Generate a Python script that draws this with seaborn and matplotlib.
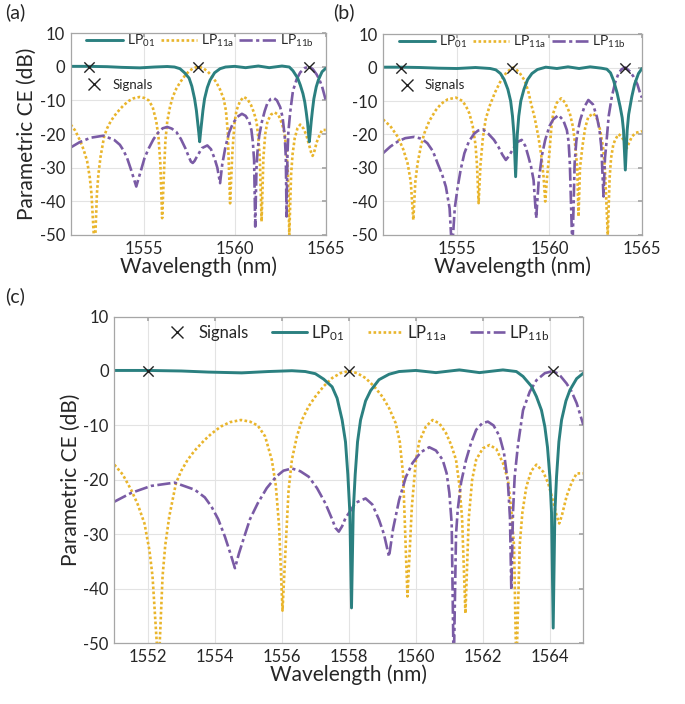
import numpy as np
import pandas as pd
import matplotlib
matplotlib.use("Agg")
import matplotlib.pyplot as plt
from matplotlib.lines import Line2D
import seaborn as sns

# ---------------- data ----------------
signal_nm = [1552.0, 1558.0, 1564.1]
signal_db = [0.0, 0.0, 0.0]

# panels (c) and (a): (wavelength nm, CE dB in (c), CE dB in (a))
lp01_ca = [
    (1551.0, 0.1, 0.1), (1552.0, 0.1, 0.1), (1553.0, 0.0, 0.0), (1553.8, -0.2, -0.2),
    (1554.8, -0.35, -0.35), (1555.6, -0.1, -0.1), (1556.3, 0.05, 0.05), (1556.7, -0.1, -0.1),
    (1557.0, -0.5, -0.6), (1557.25, -1.5, -1.8), (1557.5, -2.9, -3.4), (1557.65, -5.0, -5.8),
    (1557.8, -9.0, -9.5), (1557.9, -13.0, -13.0), (1557.97, -19.0, -16.5), (1558.03, -26.0, -19.5),
    (1558.08, -43.5, -22.3), (1558.13, -26.0, -19.5), (1558.19, -19.0, -16.5), (1558.26, -13.0, -13.0),
    (1558.35, -9.0, -9.5), (1558.5, -5.5, -6.2), (1558.65, -3.6, -4.0), (1558.9, -1.6, -1.8),
    (1559.2, -0.6, -0.6), (1559.5, -0.1, -0.1), (1560.0, 0.1, 0.1), (1560.6, -0.3, -0.3),
    (1561.3, 0.2, 0.2), (1561.9, -0.3, -0.3), (1562.6, 0.2, 0.2), (1563.0, -0.1, -0.1),
    (1563.2, -1.0, -1.2), (1563.45, -2.8, -3.3), (1563.6, -4.7, -5.4), (1563.75, -7.2, -8.0),
    (1563.85, -10.2, -10.5), (1563.93, -14.0, -13.5), (1564.0, -19.4, -16.5), (1564.05, -26.0, -19.5),
    (1564.1, -47.2, -22.3), (1564.15, -26.0, -19.5), (1564.2, -19.4, -16.5), (1564.27, -13.0, -13.0),
    (1564.35, -9.0, -9.5), (1564.48, -5.5, -6.0), (1564.6, -3.5, -3.9), (1564.8, -1.4, -1.5),
    (1565.0, -0.4, -0.5),
]

lp11a_ca = [
    (1551.0, -17.2, -17.2), (1551.25, -19.0, -19.0), (1551.5, -21.8, -21.8), (1551.7, -24.5, -24.5),
    (1551.9, -28.0, -28.0), (1552.05, -33.0, -33.0), (1552.14, -37.7, -37.7), (1552.32, -55.0, -55.0),
    (1552.44, -37.7, -37.7), (1552.52, -32.0, -32.0), (1552.64, -26.7, -26.7), (1552.84, -20.6, -20.6),
    (1553.0, -18.3, -18.3), (1553.19, -16.3, -16.3), (1553.4, -14.6, -14.6), (1553.69, -12.7, -12.7),
    (1553.9, -11.5, -11.5), (1554.18, -10.2, -10.2), (1554.45, -9.4, -9.4), (1554.78, -9.0, -9.0),
    (1555.05, -9.3, -9.3), (1555.28, -10.0, -10.0), (1555.5, -12.0, -12.0), (1555.7, -16.3, -16.3),
    (1555.82, -21.0, -21.0), (1555.92, -28.6, -28.6), (1556.02, -44.0, -45.0), (1556.12, -31.6, -31.6),
    (1556.2, -22.0, -22.0), (1556.3, -16.3, -16.3), (1556.45, -12.0, -12.0), (1556.6, -9.0, -9.0),
    (1556.8, -6.5, -6.5), (1557.0, -4.7, -4.7), (1557.25, -2.8, -2.8), (1557.5, -1.3, -1.3),
    (1557.75, -0.4, -0.4), (1558.0, 0.0, 0.0), (1558.25, -0.4, -0.4), (1558.5, -1.3, -1.3),
    (1558.75, -2.8, -2.8), (1559.0, -4.7, -4.7), (1559.2, -6.8, -6.8), (1559.4, -9.6, -9.6),
    (1559.52, -13.0, -13.0), (1559.62, -19.0, -19.0), (1559.75, -41.4, -40.6), (1559.88, -25.0, -25.0),
    (1560.0, -16.5, -16.5), (1560.1, -13.0, -13.0), (1560.3, -10.2, -10.2), (1560.5, -9.0, -9.0),
    (1560.7, -9.6, -9.6), (1560.9, -11.4, -11.4), (1561.05, -13.5, -13.5), (1561.2, -16.3, -16.3),
    (1561.3, -21.0, -21.0), (1561.38, -27.0, -27.0), (1561.48, -44.5, -46.0), (1561.58, -27.0, -27.0),
    (1561.68, -20.0, -20.0), (1561.8, -16.3, -16.3), (1562.0, -14.2, -14.2), (1562.2, -13.6, -13.6),
    (1562.4, -14.3, -14.3), (1562.6, -16.9, -16.9), (1562.75, -20.0, -20.0), (1562.85, -25.5, -25.5),
    (1562.93, -32.0, -32.0), (1563.0, -55.0, -50.0), (1563.1, -32.0, -32.0), (1563.18, -26.0, -26.0),
    (1563.3, -21.2, -21.2), (1563.45, -18.3, -18.3), (1563.6, -17.2, -17.2), (1563.8, -18.5, -18.5),
    (1563.95, -20.6, -20.6), (1564.1, -24.0, -23.5), (1564.2, -26.5, -25.5), (1564.28, -28.0, -26.5),
    (1564.36, -26.5, -25.5), (1564.5, -23.0, -22.5), (1564.65, -20.5, -20.5), (1564.8, -18.8, -18.8),
    (1565.0, -18.8, -18.8),
]

lp11b_ca = [
    (1551.0, -24.0, -24.0), (1551.5, -22.4, -22.4), (1552.1, -21.1, -21.1), (1552.8, -20.5, -20.5),
    (1553.4, -21.8, -21.8), (1553.7, -23.2, -23.2), (1553.9, -24.9, -24.9), (1554.1, -27.2, -27.2),
    (1554.3, -30.4, -30.4), (1554.48, -33.8, -33.5), (1554.6, -36.2, -35.6), (1554.72, -33.5, -33.3),
    (1554.88, -30.4, -30.4), (1555.05, -27.2, -27.2), (1555.28, -24.3, -24.3), (1555.55, -21.5, -21.5),
    (1555.83, -19.4, -19.4), (1556.05, -18.3, -18.3), (1556.3, -17.9, -17.9), (1556.55, -18.4, -18.4),
    (1556.8, -19.4, -19.4), (1557.05, -21.5, -21.5), (1557.3, -24.3, -24.3), (1557.5, -27.2, -27.0),
    (1557.6, -28.8, -28.2), (1557.7, -29.5, -28.6), (1557.8, -28.5, -28.0), (1557.9, -27.0, -27.0),
    (1558.0, -26.1, -26.1), (1558.2, -24.2, -24.2), (1558.5, -23.4, -23.4), (1558.7, -24.5, -24.5),
    (1558.9, -27.3, -27.3), (1559.05, -30.0, -30.0), (1559.2, -34.1, -34.6), (1559.32, -29.0, -29.0),
    (1559.5, -23.7, -23.7), (1559.7, -19.5, -19.5), (1559.9, -16.9, -16.9), (1560.15, -14.9, -14.9),
    (1560.4, -14.0, -14.0), (1560.6, -14.6, -14.6), (1560.8, -16.3, -16.3), (1560.92, -18.8, -18.8),
    (1561.0, -22.4, -22.4), (1561.07, -28.0, -28.0), (1561.13, -55.0, -47.5), (1561.2, -30.0, -30.0),
    (1561.25, -25.5, -25.5), (1561.35, -20.5, -20.5), (1561.5, -16.3, -16.3), (1561.65, -13.2, -13.2),
    (1561.8, -10.8, -10.8), (1561.98, -9.6, -9.6), (1562.15, -9.3, -9.3), (1562.32, -10.0, -10.0),
    (1562.5, -12.0, -12.0), (1562.63, -15.0, -15.0), (1562.75, -20.6, -20.6), (1562.81, -27.0, -27.0),
    (1562.85, -40.2, -44.5), (1562.9, -26.0, -26.0), (1562.95, -19.4, -19.4), (1563.05, -13.5, -13.5),
    (1563.2, -7.2, -7.2), (1563.4, -3.8, -3.8), (1563.6, -1.7, -1.7), (1563.85, -0.4, -0.4),
    (1564.1, 0.0, 0.0), (1564.3, -0.8, -0.8), (1564.5, -2.3, -2.3), (1564.65, -3.8, -3.8),
    (1564.8, -5.9, -5.9), (1565.0, -9.9, -9.9),
]

# panel (b): (wavelength nm, CE dB)
b_lp01 = [
    (1551.0, 0.1), (1552.0, 0.1), (1553.0, 0.0), (1554.0, -0.2), (1555.0, -0.3), (1556.0, 0.0),
    (1556.8, -0.3), (1557.1, -0.7), (1557.35, -1.8), (1557.55, -3.6), (1557.75, -6.5), (1557.9, -10.0),
    (1558.0, -14.5), (1558.08, -20.0), (1558.17, -32.6), (1558.26, -20.0), (1558.34, -14.5),
    (1558.45, -10.0), (1558.62, -6.5), (1558.82, -3.6), (1559.05, -1.8), (1559.35, -0.6), (1559.8, 0.1),
    (1560.4, -0.3), (1561.0, 0.2), (1561.6, -0.3), (1562.2, 0.2), (1562.8, -0.2), (1563.1, -0.5),
    (1563.3, -1.6), (1563.46, -3.8), (1563.65, -7.5), (1563.82, -11.7), (1563.93, -15.0), (1564.0, -18.7),
    (1564.1, -30.6), (1564.2, -18.7), (1564.28, -14.0), (1564.45, -8.7), (1564.6, -5.0), (1564.81, -1.8),
    (1565.0, -0.3),
]
b_lp11a = [
    (1551.0, -15.5), (1551.4, -17.5), (1551.8, -20.7), (1552.1, -24.5), (1552.33, -28.6), (1552.5, -34.0),
    (1552.64, -45.5), (1552.75, -34.0), (1552.87, -28.6), (1553.05, -23.5), (1553.23, -19.7),
    (1553.5, -16.0), (1553.86, -12.7), (1554.15, -10.8), (1554.5, -9.5), (1554.95, -9.0), (1555.3, -10.0),
    (1555.5, -11.7), (1555.67, -13.7), (1555.85, -17.5), (1556.0, -23.0), (1556.08, -29.0),
    (1556.17, -40.5), (1556.27, -29.0), (1556.4, -21.0), (1556.55, -15.5), (1556.75, -11.7),
    (1557.05, -7.5), (1557.38, -3.8), (1557.7, -1.3), (1558.05, 0.0), (1558.35, -1.3), (1558.65, -3.8),
    (1558.85, -7.0), (1559.0, -10.7), (1559.2, -15.0), (1559.4, -20.7), (1559.55, -26.0), (1559.68, -32.6),
    (1559.77, -40.0), (1559.88, -32.0), (1559.98, -26.6), (1560.1, -18.0), (1560.2, -13.7), (1560.4, -10.5),
    (1560.63, -9.2), (1560.85, -10.5), (1561.1, -13.7), (1561.28, -18.0), (1561.4, -23.6), (1561.5, -30.0),
    (1561.57, -44.5), (1561.65, -30.0), (1561.78, -23.6), (1561.93, -18.0), (1562.1, -14.7),
    (1562.38, -13.7), (1562.58, -15.5), (1562.74, -18.7), (1562.9, -24.0), (1563.0, -30.6),
    (1563.15, -50.0), (1563.25, -33.0), (1563.33, -27.0), (1563.45, -23.0), (1563.55, -21.6),
    (1563.73, -19.9), (1563.88, -20.5), (1564.0, -21.6), (1564.18, -24.1), (1564.3, -22.5),
    (1564.45, -20.7), (1564.65, -19.5), (1564.9, -19.2), (1565.0, -19.0),
]
b_lp11b = [
    (1551.0, -25.6), (1551.4, -23.6), (1551.8, -22.1), (1552.2, -21.1), (1552.7, -20.7), (1553.1, -21.3),
    (1553.4, -22.6), (1553.7, -25.0), (1553.95, -28.6), (1554.2, -32.0), (1554.4, -35.6), (1554.6, -42.0),
    (1554.73, -55.0), (1554.88, -42.0), (1555.04, -35.6), (1555.2, -30.5), (1555.4, -25.6),
    (1555.65, -22.0), (1555.94, -19.7), (1556.15, -18.8), (1556.39, -18.5), (1556.7, -19.8),
    (1557.0, -21.6), (1557.25, -23.8), (1557.45, -26.0), (1557.64, -27.6), (1557.8, -26.5),
    (1558.0, -24.6), (1558.25, -22.3), (1558.5, -21.6), (1558.7, -23.5), (1558.86, -26.6),
    (1559.0, -29.5), (1559.14, -33.6), (1559.28, -45.0), (1559.42, -33.6), (1559.6, -26.0),
    (1559.77, -21.6), (1560.0, -17.5), (1560.2, -15.5), (1560.49, -14.2), (1560.75, -15.8),
    (1560.94, -18.7), (1561.03, -22.0), (1561.1, -28.6), (1561.24, -55.0), (1561.36, -28.6),
    (1561.45, -22.0), (1561.55, -18.5), (1561.66, -15.7), (1561.88, -11.8), (1562.1, -9.7),
    (1562.35, -11.0), (1562.56, -14.7), (1562.7, -18.5), (1562.8, -23.6), (1562.92, -38.5),
    (1563.0, -27.0), (1563.06, -23.6), (1563.2, -14.5), (1563.37, -8.7), (1563.55, -4.5),
    (1563.73, -1.8), (1563.9, -0.5), (1564.1, 0.0), (1564.35, -1.2), (1564.55, -2.8), (1564.75, -5.0),
    (1564.9, -7.7), (1565.0, -9.0),
]

y_ticks = [10, 0, -10, -20, -30, -40, -50]
x_ticks_small = [1555, 1560, 1565]
x_ticks_big = [1552, 1554, 1556, 1558, 1560, 1562, 1564]
legend_labels = ["LP$_{01}$", "LP$_{11a}$", "LP$_{11b}$"]

# ---------------- style ----------------
sns.set_theme(style="whitegrid")
plt.rcParams["font.family"] = ["Lato", "DejaVu Sans"]
plt.rcParams["mathtext.default"] = "regular"
plt.rcParams["axes.unicode_minus"] = False

C01 = "#2b8080"
C11A = "#e9b52c"
C11B = "#7a5ba5"
LW = 1.9
LS01 = "-"
LS11A = (0, (1, 0.9))
LS11B = (0, (5, 1.3, 1.2, 1.3))


def frame(pts, col):
    return pd.DataFrame({"nm": [p[0] for p in pts], "dB": [p[col] for p in pts]})


fig = plt.figure(figsize=(6.85, 7.04), dpi=100)
axA = fig.add_axes([0.1032, 0.6662, 0.3723, 0.2869])
axB = fig.add_axes([0.5591, 0.6662, 0.3781, 0.2855])
axC = fig.add_axes([0.1669, 0.0862, 0.6847, 0.4642])


def draw(ax, d01, da, db):
    sns.lineplot(data=da, x="nm", y="dB", ax=ax, color=C11A, lw=LW, linestyle=LS11A,
                 estimator=None, sort=False, dash_capstyle="butt")
    sns.lineplot(data=db, x="nm", y="dB", ax=ax, color=C11B, lw=LW, linestyle=LS11B,
                 estimator=None, sort=False)
    sns.lineplot(data=d01, x="nm", y="dB", ax=ax, color=C01, lw=LW + 0.2, linestyle=LS01,
                 estimator=None, sort=False)
    sns.scatterplot(x=signal_nm, y=signal_db, ax=ax, marker="x", color="#222222",
                    s=55, linewidth=1.0, zorder=5)


def style(ax, xticks, fs_tick, fs_label, ylabel=True):
    ax.set_xlim(1551, 1565)
    ax.set_ylim(-50, 10)
    ax.set_xticks(xticks)
    ax.set_yticks(y_ticks)
    ax.grid(True, color="#e3e3e3", lw=0.8)
    for s in ax.spines.values():
        s.set_color("#a6a6a6")
        s.set_linewidth(0.9)
    ax.tick_params(direction="in", length=3, color="#a6a6a6", top=True, right=True,
                   labelsize=fs_tick, labelcolor="#262626", pad=4)
    ax.set_xlabel("Wavelength (nm)", fontsize=fs_label, color="#262626", labelpad=0)
    if ylabel:
        ax.set_ylabel("Parametric CE (dB)", fontsize=fs_label, color="#262626", labelpad=2)
    else:
        ax.set_ylabel("")


draw(axA, frame(lp01_ca, 2), frame(lp11a_ca, 2), frame(lp11b_ca, 2))
draw(axB, frame(b_lp01, 1), frame(b_lp11a, 1), frame(b_lp11b, 1))
draw(axC, frame(lp01_ca, 1), frame(lp11a_ca, 1), frame(lp11b_ca, 1))

style(axA, x_ticks_small, 12, 15)
style(axB, x_ticks_small, 12, 15, ylabel=False)
style(axC, x_ticks_big, 12, 15)

h01 = Line2D([], [], color=C01, lw=LW + 0.2, linestyle=LS01)
h11a = Line2D([], [], color=C11A, lw=LW, linestyle=LS11A)
h11b = Line2D([], [], color=C11B, lw=LW, linestyle=LS11B)
hsig = Line2D([], [], color="#222222", marker="x", linestyle="none", markersize=8, mew=1.0)

for ax in (axA, axB):
    lg = ax.legend([h01, h11a, h11b], legend_labels, loc="upper left", bbox_to_anchor=(0.04, 1.03),
                   ncol=3, frameon=False, fontsize=10, handlelength=2.6, handletextpad=0.3,
                   columnspacing=0.4, borderaxespad=0.0, labelcolor="#262626")
    ax.add_artist(lg)
    ax.legend([hsig], ["Signals"], loc="upper left", bbox_to_anchor=(0.04, 0.8),
              frameon=False, fontsize=9.5, handlelength=1.2, handletextpad=0.8,
              borderaxespad=0.0, labelcolor="#262626")

axC.legend([hsig, h01, h11a, h11b], ["Signals"] + legend_labels, loc="upper center",
           bbox_to_anchor=(0.512, 1.0), ncol=4, frameon=False, fontsize=12,
           handlelength=2.1, handletextpad=0.25, columnspacing=1.4,
           borderaxespad=0.0, labelcolor="#262626")

fig.text(0.008, 0.995, "(a)", fontsize=14, va="top", ha="left", color="#262626")
fig.text(0.487, 0.995, "(b)", fontsize=14, va="top", ha="left", color="#262626")
fig.text(0.008, 0.592, "(c)", fontsize=14, va="top", ha="left", color="#262626")

fig.savefig("out.png", dpi=100)
